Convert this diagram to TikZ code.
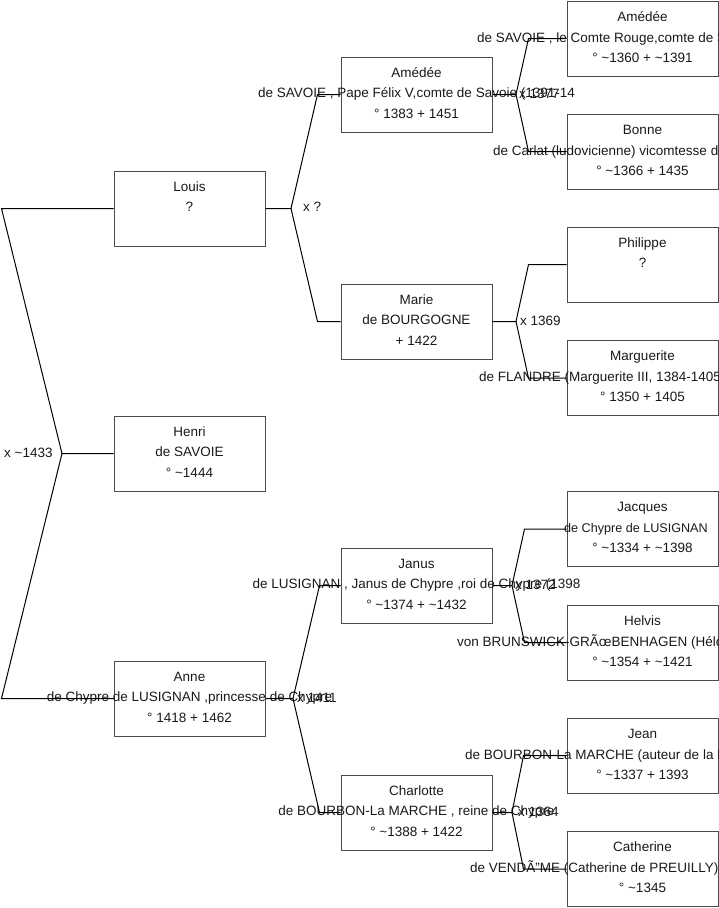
\documentclass[tikz,border=0pt]{standalone}
\usepackage{fontspec}
\setmainfont{Liberation Sans}
\newcommand\pers[6]{%
  \node[pbox] (#1) at (#2,#3) {};
  \node[ptxt] (#1-a) at ([yshift=17.5pt]#1.center) {#4};
  \node[ptxt] (#1-b) at ([yshift=-3pt]#1.center) {#5};
  \node[ptxt] (#1-c) at ([yshift=-23.5pt]#1.center) {#6};
}
\tikzset{
  pbox/.style={draw=black!70, line width=1pt, minimum width=151pt, minimum height=75pt, inner sep=0pt},
  ptxt/.style={anchor=base, inner sep=0pt, font=\fontsize{13.5}{15}\selectfont, text=black!90},
  ltxt/.style={anchor=base west, inner sep=0pt, font=\fontsize{13.5}{15}\selectfont, text=black!90},
  link/.style={draw=black, line width=1pt},
}
\begin{document}
\begin{tikzpicture}[x=1pt,y=-1pt]
\useasboundingbox (0,0) rectangle (719,908);
\clip (0,0) rectangle (719,908);
% column 1
\pers{louis}{189.5}{208.5}{Louis}{?}{}
\pers{henri}{189.5}{453.5}{Henri}{de SAVOIE}{° \char"7E 1444}
\pers{anne}{189.5}{698.5}{Anne}{de Chypre de LUSIGNAN ,princesse de Chypre}{° 1418 + 1462}
% column 2
\pers{amedeeB}{416.5}{94.5}{Amédée}{de SAVOIE , Pape Félix V,comte de Savoie (1391-14}{° 1383 + 1451}
\pers{marie}{416.5}{321.5}{Marie}{de BOURGOGNE}{+ 1422}
\pers{janus}{416.5}{585.5}{Janus}{de LUSIGNAN , Janus de Chypre ,roi de Chypre (1398}{° \char"7E 1374 + \char"7E 1432}
\pers{charlotte}{416.5}{812.5}{Charlotte}{de BOURBON-La MARCHE , reine de Chypre}{° \char"7E 1388 + 1422}
% column 3
\pers{amedeeC}{642.5}{38.5}{Amédée}{}{° \char"7E 1360 + \char"7E 1391}
\node[ltxt] (amedeeC-l) at (477,42) {de SAVOIE , le Comte Rouge,comte de Savoie};
\pers{bonne}{642.5}{151.5}{Bonne}{}{° \char"7E 1366 + 1435}
\node[ltxt] (bonne-l) at (493,155) {de Carlat (ludovicienne) vicomtesse de Berry};
\pers{philippe}{642.5}{264.5}{Philippe}{?}{}
\pers{marguerite}{642.5}{378}{Marguerite}{}{° 1350 + 1405}
\node[ltxt] (marguerite-l) at (479,381.5) {de FLANDRE (Marguerite III, 1384-1405)};
\pers{jacques}{642.5}{529}{Jacques}{}{° \char"7E 1334 + \char"7E 1398}
\node[ltxt, font=\fontsize{12.6}{15}\selectfont] (jacques-l) at (564,532.5) {de Chypre de LUSIGNAN};
\pers{helvis}{642.5}{642.5}{Helvis}{}{° \char"7E 1354 + \char"7E 1421}
\node[ltxt] (helvis-l) at (457,646) {von BRUNSWICK-GRÃœBENHAGEN (Héloïse)};
\pers{jean}{642.5}{755.5}{Jean}{}{° \char"7E 1337 + 1393}
\node[ltxt] (jean-l) at (465,759) {de BOURBON-La MARCHE (auteur de la Maison)};
\pers{catherine}{642.5}{869}{Catherine}{}{° \char"7E 1345}
\node[ltxt] (catherine-l) at (470,872.5) {de VENDÃ”ME (Catherine de PREUILLY)};
% marriage labels
\node[ltxt] (m0) at (4,457.5) {x \char"7E 1433};
\node[ltxt] (m1) at (303,211.5) {x ?};
\node[ltxt] (m2) at (297,702) {x 1411};
\node[ltxt] (m3) at (519,98) {x 1377};
\node[ltxt] (m4) at (520,325) {x 1369};
\node[ltxt] (m5) at (515,589) {x 1372};
\node[ltxt] (m6) at (518,816) {x 1364};
% forks
\coordinate (f0) at (62,453.5);
\coordinate (f1) at (291,208.5);
\coordinate (f2) at (293,698.5);
\coordinate (f3) at (516,94.5);
\coordinate (f4) at (516,321.5);
\coordinate (f5) at (512,585.5);
\coordinate (f6) at (512,812.5);
\draw[link] (henri.west) -- (f0) -- ([xshift=-112pt]louis.west) -- (louis.west);
\draw[link] (f0) -- ([xshift=-112pt]anne.west) -- (anne.west);
\draw[link] (louis.east) -- (f1) -- ([xshift=-23pt]amedeeB.west) -- (amedeeB.west);
\draw[link] (f1) -- ([xshift=-23pt]marie.west) -- (marie.west);
\draw[link] (anne.east) -- (f2) -- ([xshift=-21pt]janus.west) -- (janus.west);
\draw[link] (f2) -- ([xshift=-21pt]charlotte.west) -- (charlotte.west);
\draw[link] (amedeeB.east) -- (f3) -- ([xshift=-38pt]amedeeC.west) -- (amedeeC.west);
\draw[link] (f3) -- ([xshift=-38pt]bonne.west) -- (bonne.west);
\draw[link] (marie.east) -- (f4) -- ([xshift=-38pt]philippe.west) -- (philippe.west);
\draw[link] (f4) -- ([xshift=-38pt]marguerite.west) -- (marguerite.west);
\draw[link] (janus.east) -- (f5) -- ([xshift=-42pt]jacques.west) -- (jacques.west);
\draw[link] (f5) -- ([xshift=-42pt]helvis.west) -- (helvis.west);
\draw[link] (charlotte.east) -- (f6) -- ([xshift=-43pt]jean.west) -- (jean.west);
\draw[link] (f6) -- ([xshift=-43pt]catherine.west) -- (catherine.west);
\end{tikzpicture}
\end{document}
